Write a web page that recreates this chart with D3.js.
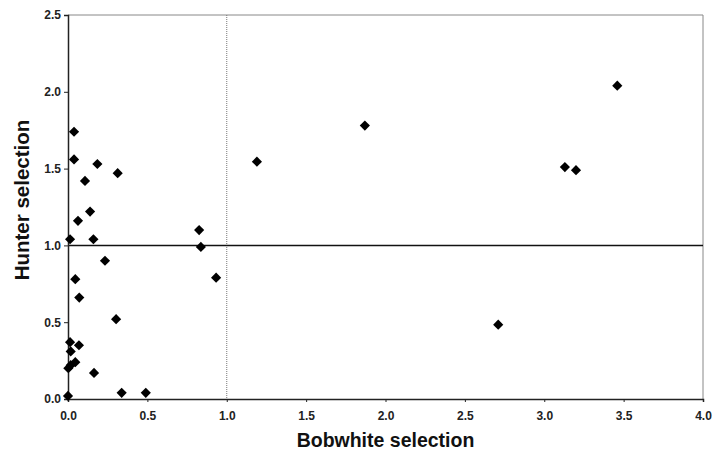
<!DOCTYPE html>
<html>
<head>
<meta charset="utf-8">
<script src="https://cdn.jsdelivr.net/npm/d3@7"></script>
<style>
  body { margin: 0; background: #fff; }
  text { font-family: "Liberation Sans", Arial, sans-serif; }
</style>
</head>
<body>
<svg id="chart" width="726" height="460"></svg>
<script>
// Bobwhite selection (x) vs hunter selection (y)
const bobwhite = [
  3.46, 1.87, 1.19, 3.13, 3.20, 2.71,
  0.038, 0.038, 0.107, 0.185, 0.313, 0.063, 0.139, 0.826,
  0.013, 0.16, 0.837, 0.233, 0.933, 0.046, 0.071, 0.303,
  0.013, 0.069, 0.017, 0.046, 0.017, 0.002, 0.164, 0.338, 0.49, 0.0
];
const hunter = [
  2.04, 1.78, 1.545, 1.51, 1.49, 0.484,
  1.74, 1.56, 1.42, 1.53, 1.47, 1.16, 1.22, 1.10,
  1.04, 1.04, 0.99, 0.90, 0.79, 0.78, 0.66, 0.52,
  0.37, 0.35, 0.31, 0.24, 0.22, 0.20, 0.17, 0.04, 0.04, 0.02
];
const xTicks = [0, 0.5, 1, 1.5, 2, 2.5, 3, 3.5, 4];
const yTicks = [0, 0.5, 1, 1.5, 2, 2.5];

const svg = d3.select('#chart');
const margin = { left: 68, right: 23, top: 15, bottom: 61 };
const width = 726, height = 460;

const x = d3.scaleLinear().domain([0, 4]).range([margin.left, width - margin.right]);
const y = d3.scaleLinear().domain([0, 2.5]).range([height - margin.bottom, margin.top]);

// plot frame (top and right are lighter)
svg.append('line')
  .attr('x1', x(0)).attr('x2', x(4)).attr('y1', y(2.5)).attr('y2', y(2.5))
  .attr('stroke', '#888').attr('stroke-width', 1);
svg.append('line')
  .attr('x1', x(4)).attr('x2', x(4)).attr('y1', y(2.5)).attr('y2', y(0))
  .attr('stroke', '#888').attr('stroke-width', 1);

// reference lines
svg.append('line')
  .attr('x1', x(1)).attr('x2', x(1)).attr('y1', y(2.5)).attr('y2', y(0))
  .attr('stroke', '#777').attr('stroke-width', 1).attr('stroke-dasharray', '1,1');
svg.append('line')
  .attr('x1', x(0)).attr('x2', x(4)).attr('y1', y(1)).attr('y2', y(1))
  .attr('stroke', '#111').attr('stroke-width', 1.5);

// axes
const xAxis = svg.append('g')
  .attr('transform', 'translate(0,' + y(0) + ')')
  .call(d3.axisBottom(x).tickValues(xTicks).tickFormat(d3.format('.1f')).tickSize(3).tickPadding(9));
const yAxis = svg.append('g')
  .attr('transform', 'translate(' + x(0) + ',0)')
  .call(d3.axisLeft(y).tickValues(yTicks).tickFormat(d3.format('.1f')).tickSize(4).tickPadding(3));

[xAxis, yAxis].forEach(function (g) {
  g.select('.domain').attr('stroke', '#222').attr('stroke-width', 1.5);
  g.selectAll('.tick line').attr('stroke', '#222');
  g.selectAll('.tick text')
    .attr('fill', '#222')
    .style('font-size', '12px')
    .style('font-weight', 'bold')
    .style('font-family', '"Liberation Sans", Arial, sans-serif');
});

// points
const points = bobwhite.map((d, i) => ({ x: d, y: hunter[i] }));
svg.selectAll('.pt')
  .data(points)
  .enter()
  .append('path')
  .attr('class', 'pt')
  .attr('d', d3.symbol().type(d3.symbolDiamond2).size(66))
  .attr('transform', d => 'translate(' + x(d.x) + ',' + y(d.y) + ')')
  .attr('fill', '#000');

// axis titles
svg.append('text')
  .attr('x', (x(0) + x(4)) / 2)
  .attr('y', 447)
  .attr('text-anchor', 'middle')
  .style('font-size', '19.5px')
  .style('font-weight', 'bold')
  .attr('fill', '#111')
  .text('Bobwhite selection');

svg.append('text')
  .attr('transform', 'translate(29,200) rotate(-90)')
  .attr('text-anchor', 'middle')
  .style('font-size', '20.5px')
  .style('font-weight', 'bold')
  .attr('fill', '#111')
  .text('Hunter selection');
</script>
</body>
</html>
